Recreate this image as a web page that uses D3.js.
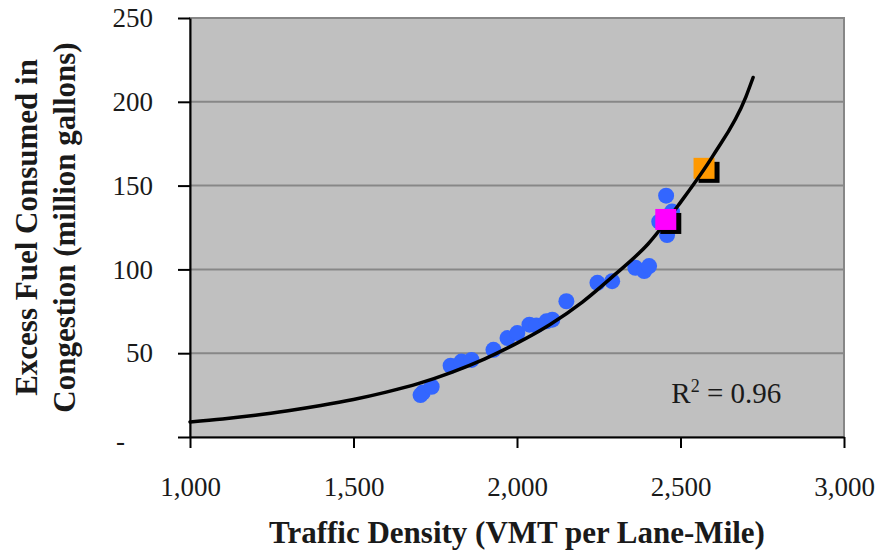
<!DOCTYPE html>
<html>
<head>
<meta charset="utf-8">
<script src="https://cdn.jsdelivr.net/npm/d3@7"></script>
<style>
  body { margin: 0; background: white; }
  svg { display: block; }
</style>
</head>
<body>
<div id="grafico"></div>
<script>
// Datos
const densidad = [1705, 1712, 1739, 1797, 1830, 1861, 1928, 1971, 2001, 2038, 2059, 2090, 2108, 2151,
  2246, 2291, 2362, 2389, 2404, 2456, 2474, 2435, 2459];
const combustible = [25, 26.5, 30, 42.5, 45, 46, 52, 59, 62, 67, 66.5, 69, 70, 81,
  92, 93, 101, 99, 102, 144, 134.5, 128.5, 120.5];

// Linea de tendencia (exponencial)
const tendenciaX = [1000, 1100, 1200, 1300, 1400, 1500, 1600, 1700, 1800, 1900, 2000,
  2100, 2200, 2300, 2400, 2500, 2600, 2700, 2722];
const tendenciaY = [9, 10.8, 13, 15.7, 18.8, 22.4, 26.8, 32, 38.6, 46.5, 56,
  67, 80.5, 97, 115, 140, 168, 203, 214.5];

// Puntos destacados (cuadrados)
const destacadosX = [2572, 2455];
const destacadosY = [160.3, 129.8];
const destacadosColor = ["#ff9900", "#ff00ff"];

const ticksX = [1000, 1500, 2000, 2500, 3000];
const ticksY = [0, 50, 100, 150, 200, 250];

// Dimensiones
const ancho = 881;
const alto = 552;
const margen = { superior: 18, derecho: 37, inferior: 115, izquierdo: 190 };
const fuente = "'Liberation Serif', 'Times New Roman', serif";

const svg = d3.select("#grafico")
  .append("svg")
  .attr("width", ancho)
  .attr("height", alto);

const escalaX = d3.scaleLinear()
  .domain([1000, 3000])
  .range([margen.izquierdo, ancho - margen.derecho]);

const escalaY = d3.scaleLinear()
  .domain([0, 250])
  .range([alto - margen.inferior, margen.superior]);

// Fondo del area de trazado
svg.append("rect")
  .attr("x", escalaX(1000))
  .attr("y", escalaY(250))
  .attr("width", escalaX(3000) - escalaX(1000))
  .attr("height", escalaY(0) - escalaY(250))
  .attr("fill", "#c0c0c0")
  .attr("stroke", "#878787")
  .attr("stroke-width", 2);

// Lineas de cuadricula
svg.selectAll(".grid")
  .data(ticksY.filter(d => d > 0))
  .enter()
  .append("line")
  .attr("class", "grid")
  .attr("x1", escalaX(1000))
  .attr("x2", escalaX(3000))
  .attr("y1", d => escalaY(d))
  .attr("y2", d => escalaY(d))
  .attr("stroke", "#878787")
  .attr("stroke-width", 2);

// Puntos azules
svg.selectAll(".punto")
  .data(densidad)
  .enter()
  .append("circle")
  .attr("class", "punto")
  .attr("cx", d => escalaX(d))
  .attr("cy", (d, i) => escalaY(combustible[i]))
  .attr("r", 8)
  .attr("fill", "#3366ff");

// Cuadrados con sombra
function cuadrado(i) {
  const lado = 21;
  const cx = escalaX(destacadosX[i]);
  const cy = escalaY(destacadosY[i]);
  svg.append("rect")
    .attr("x", cx - lado / 2 + 5)
    .attr("y", cy - lado / 2 + 4)
    .attr("width", lado)
    .attr("height", lado)
    .attr("fill", "black");
  svg.append("rect")
    .attr("x", cx - lado / 2)
    .attr("y", cy - lado / 2)
    .attr("width", lado)
    .attr("height", lado)
    .attr("fill", destacadosColor[i]);
}
cuadrado(0);

// Linea de tendencia
const linea = d3.line()
  .x(d => escalaX(d))
  .y((d, i) => escalaY(tendenciaY[i]))
  .curve(d3.curveMonotoneX);

svg.append("path")
  .attr("d", linea(tendenciaX))
  .attr("fill", "none")
  .attr("stroke", "black")
  .attr("stroke-width", 3.5)
  .attr("stroke-linecap", "round");

cuadrado(1);

// Ejes
const ejeY = svg.append("g")
  .attr("transform", `translate(${escalaX(1000)},0)`)
  .call(d3.axisLeft(escalaY)
    .tickValues(ticksY)
    .tickSize(12)
    .tickSizeOuter(0)
    .tickPadding(25)
    .tickFormat(d => d === 0 ? "-" : d));

const ejeX = svg.append("g")
  .attr("transform", `translate(0,${escalaY(0)})`)
  .call(d3.axisBottom(escalaX)
    .tickValues(ticksX)
    .tickSize(11)
    .tickSizeOuter(0)
    .tickPadding(29)
    .tickFormat(d3.format(",")));

svg.selectAll(".domain, .tick line")
  .attr("stroke", "black")
  .attr("stroke-width", 2);

svg.selectAll(".tick text")
  .attr("font-family", fuente)
  .attr("font-size", 27)
  .attr("fill", "#1a1a1a");

ejeY.selectAll(".tick text")
  .filter(d => d === 0)
  .attr("dx", -28)
  .attr("dy", "0.45em");

// Titulos de ejes
svg.append("text")
  .attr("x", (escalaX(1000) + escalaX(3000)) / 2)
  .attr("y", 543)
  .attr("text-anchor", "middle")
  .attr("font-family", fuente)
  .attr("font-size", 31)
  .attr("font-weight", "bold")
  .attr("fill", "#1a1a1a")
  .text("Traffic Density (VMT per Lane-Mile)");

const centroY = (escalaY(0) + escalaY(250)) / 2;
svg.append("text")
  .attr("transform", `translate(37,${centroY}) rotate(-90)`)
  .attr("text-anchor", "middle")
  .attr("font-family", fuente)
  .attr("font-size", 31)
  .attr("font-weight", "bold")
  .attr("fill", "#1a1a1a")
  .text("Excess Fuel Consumed in");

svg.append("text")
  .attr("transform", `translate(75,${centroY}) rotate(-90)`)
  .attr("text-anchor", "middle")
  .attr("font-family", fuente)
  .attr("font-size", 31)
  .attr("font-weight", "bold")
  .attr("fill", "#1a1a1a")
  .text("Congestion (million gallons)");

// Etiqueta R2
const r2 = svg.append("text")
  .attr("x", escalaX(2472))
  .attr("y", escalaY(20))
  .attr("font-family", fuente)
  .attr("font-size", 29)
  .attr("fill", "#1a1a1a");
r2.append("tspan").text("R");
r2.append("tspan").attr("dy", -11).attr("font-size", 18).text("2");
r2.append("tspan").attr("dy", 11).text(" = 0.96");
</script>
</body>
</html>
